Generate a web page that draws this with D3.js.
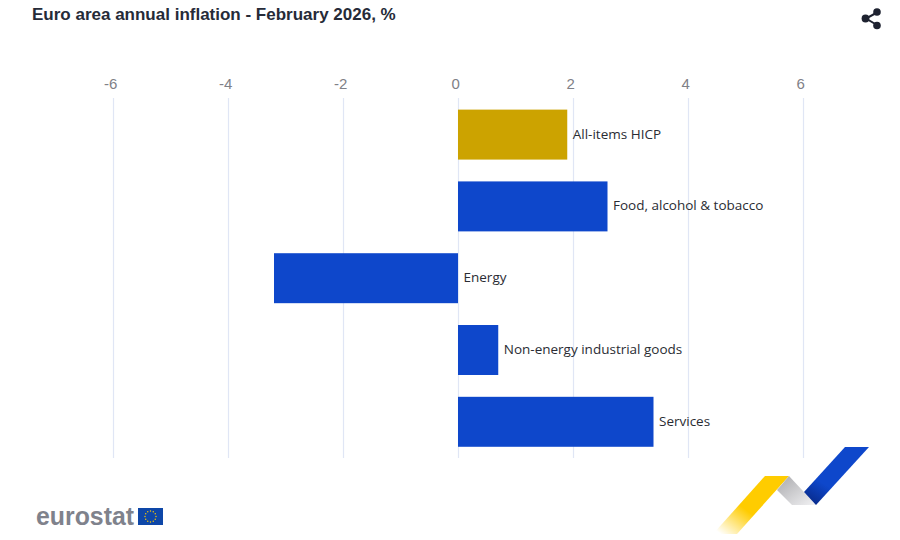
<!DOCTYPE html>
<html><head><meta charset="utf-8">
<script src="https://cdn.jsdelivr.net/npm/d3@7"></script>
<style>html,body{margin:0;background:#fff}svg{display:block}</style>
</head><body><svg id="c" width="900" height="540"></svg>
<script>
const categories = ["All-items HICP","Food, alcohol & tobacco","Energy","Non-energy industrial goods","Services"];
const values = [1.9,2.6,-3.2,0.7,3.4];
const barColors = ["#cca300","#0e47cb","#0e47cb","#0e47cb","#0e47cb"];
const ticks = [-6,-4,-2,0,2,4,6];
const titleText = "Euro area annual inflation - February 2026, %";

const svg = d3.select("#c");
const x = d3.scaleLinear().domain([-6,6]).range([113,803]);
const y = d3.scaleBand().domain(categories).range([98.7,457.7]).paddingInner(0.304).paddingOuter(0.152);

const defs = svg.append("defs");
function grad(id,x1,y1,x2,y2,stops){
  const g = defs.append("linearGradient").attr("id",id).attr("x1",x1).attr("y1",y1).attr("x2",x2).attr("y2",y2);
  stops.forEach(s=>g.append("stop").attr("offset",s[0]).attr("stop-color",s[1]).attr("stop-opacity",s[2]));
}
grad("gy",0.85,0.25,0.1,1,[[0,"#ffcc00",1],[0.5,"#ffcc00",1],[1,"#ffcc00",0]]);
grad("gg",0,0,1,1,[[0,"#a9a9ac",1],[1,"#f2f2f4",1]]);
grad("gb",0.7,0.2,0.15,1,[[0,"#0e47cb",1],[0.6,"#0e47cb",1],[1,"#082a8a",1]]);

svg.append("text").attr("x",32).attr("y",19.5)
  .attr("font-family","Liberation Sans, Arial, sans-serif").attr("font-size",17).attr("font-weight",700)
  .attr("fill","#262b38").text(titleText);

// Grid lines and tick labels
const axis = d3.axisTop(x).tickValues(ticks).tickSize(-360).tickFormat(d3.format("d"));
const gAxis = svg.append("g").attr("transform","translate(0,98)").call(axis);
gAxis.select(".domain").remove();
gAxis.selectAll("line").attr("stroke","#e0e6f5").attr("stroke-width",1.2);
gAxis.selectAll("text").attr("font-family","Liberation Sans, Arial, sans-serif").attr("font-size",15)
  .attr("fill","#7f8187").attr("dx",-2.8).attr("y",-9).text(d=>d);

// Bars
svg.append("g").selectAll("rect").data(categories).join("rect")
  .attr("x",(d,i)=>Math.min(x(0),x(values[i])))
  .attr("y",d=>y(d)).attr("height",y.bandwidth())
  .attr("width",(d,i)=>Math.abs(x(values[i])-x(0)))
  .attr("fill",(d,i)=>barColors[i]);

// Labels
svg.append("g").selectAll("text").data(categories).join("text")
  .attr("x",(d,i)=>Math.max(x(0),x(values[i]))+5.5)
  .attr("y",d=>y(d)+y.bandwidth()/2+4)
  .attr("font-family","Open Sans, Noto Sans, sans-serif").attr("font-size",13.5)
  .attr("fill","#2a2c33").text(d=>d);

// Share icon
const share = svg.append("g").attr("fill","#1e2230").attr("stroke","#1e2230");
share.append("path").attr("d","M877 12.5L866 18.5L877 25").attr("fill","none").attr("stroke-width",2);
[[877,12,3.8],[865.5,18.5,3.9],[877,25.5,3.8]].forEach(c=>share.append("circle").attr("cx",c[0]).attr("cy",c[1]).attr("r",c[2]).attr("stroke","none"));

// Decoration ribbon
svg.append("path").attr("d","M765 476L789 476L737 534L713 534Z").attr("fill","url(#gy)");
svg.append("path").attr("d","M789 476L816 505L792 505L777 490Z").attr("fill","url(#gg)");
svg.append("path").attr("d","M845 447L869 447L816 505L804 492Z").attr("fill","url(#gb)");

// Eurostat logo
svg.append("text").attr("x",36).attr("y",525)
  .attr("font-family","Liberation Sans, Arial, sans-serif").attr("font-size",25).attr("font-weight",700)
  .attr("fill","#7f828c").attr("textLength",98).attr("lengthAdjust","spacingAndGlyphs").text("eurostat");
svg.append("rect").attr("x",138).attr("y",508).attr("width",25).attr("height",17).attr("fill","#0e47a8");
const starAngles = d3.range(0,12);
svg.append("g").selectAll("circle").data(starAngles).join("circle")
  .attr("cx",d=>150.5+5.5*Math.cos(d*Math.PI/6))
  .attr("cy",d=>516.5+5.5*Math.sin(d*Math.PI/6))
  .attr("r",0.7).attr("fill","#ffcc00");
</script></body></html>
